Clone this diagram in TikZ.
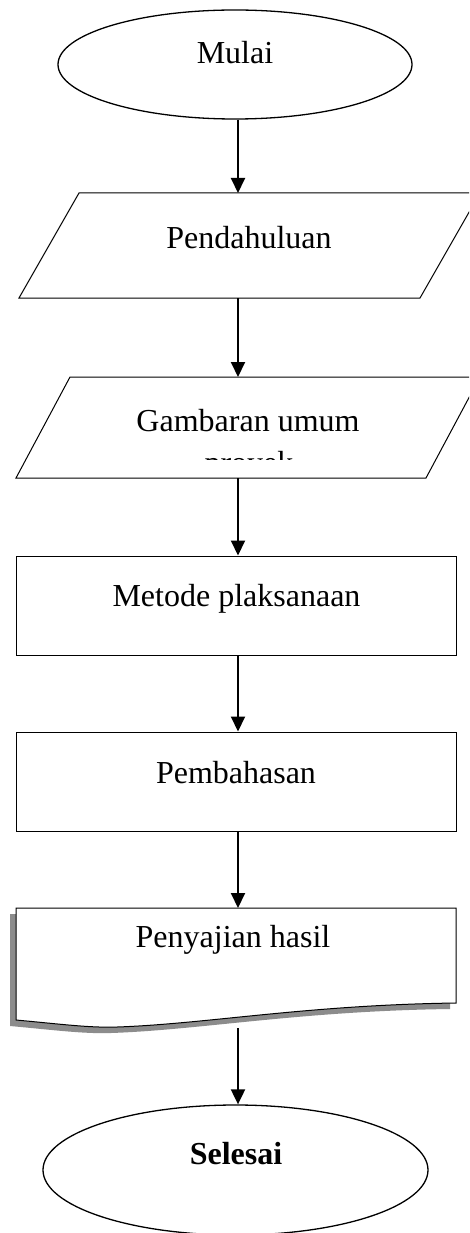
\documentclass[tikz,border=0pt]{standalone}
\usepackage{fontspec}
\setmainfont{Liberation Serif}
\usetikzlibrary{arrows.meta,shapes.geometric}
\begin{document}
\begin{tikzpicture}[x=1pt,y=-1pt,
  box/.style={draw,line width=1pt,fill=white},
  term/.style={ellipse,draw,line width=1.3pt,inner sep=0pt},
  rectbox/.style={rectangle,draw,line width=1pt,inner sep=0pt},
  lbl/.style={anchor=base,inner sep=0pt,font=\fontsize{32}{40}\selectfont},
  flow/.style={line width=2pt,-{Triangle[length=15pt,width=14pt]}}]
\clip (0,0) rectangle (469,1233);
\fill[white] (0,0) rectangle (469,1233);

% Start
\node[term,minimum width=354pt,minimum height=109pt] (mulai) at (235,64.5) {};
\node[lbl] (tmulai) at (235,64) {Mulai};

% Parallelogram 1
\draw[box] (79,193) -- (480,193) -- (420,298) -- (19,298) -- cycle;
\coordinate (p1n) at (238,193);
\coordinate (p1s) at (238,298);
\node[lbl] (tp1) at (249,248) {Pendahuluan};

% Parallelogram 2
\draw[box] (70,377) -- (480,377) -- (426,478) -- (16,478) -- cycle;
\coordinate (p2n) at (238,377);
\coordinate (p2s) at (238,478);
\node[lbl] (tp2a) at (248,431) {Gambaran umum};
\begin{scope}
  \clip (0,380) rectangle (469,459);
  \node[lbl] (tp2b) at (249,473) {proyek};
\end{scope}

% Rectangles
\node[rectbox,minimum width=440pt,minimum height=99pt] (metode) at (236,605.5) {};
\node[lbl] (tmetode) at (236.5,606) {Metode plaksanaan};
\node[rectbox,minimum width=440pt,minimum height=99pt] (bahas) at (236,781.5) {};
\node[lbl] (tbahas) at (236,783) {Pembahasan};

% Document shape with shadow
\fill[black!45] (10,914) -- (450,914) -- (450,1009)
  .. controls (300,1011) and (200,1030) .. (111,1033)
  .. controls (84,1034) and (54,1030) .. (10,1026) -- cycle;
\draw[box] (16,908) -- (456,908) -- (456,1003)
  .. controls (306,1005) and (206,1024) .. (117,1027)
  .. controls (90,1028) and (60,1024) .. (16,1020) -- cycle;
\coordinate (docn) at (238,908);
\coordinate (docs) at (238,1028);
\node[lbl] (tdoc) at (233,947) {Penyajian hasil};

% End
\node[term,minimum width=385pt,minimum height=130pt] (selesai) at (235.5,1170) {};
\node[lbl,font=\fontsize{32}{40}\selectfont\bfseries] (tselesai) at (236,1164) {Selesai};

% Connectors
\draw[flow] (mulai.south -| p1n) -- (p1n);
\draw[flow] (p1s) -- (p2n);
\draw[flow] (p2s) -- (metode.north -| p2s);
\draw[flow] (metode.south -| p2s) -- (bahas.north -| p2s);
\draw[flow] (bahas.south -| p2s) -- (docn);
\draw[flow] (docs) -- (selesai.north -| docs);
\end{tikzpicture}
\end{document}
